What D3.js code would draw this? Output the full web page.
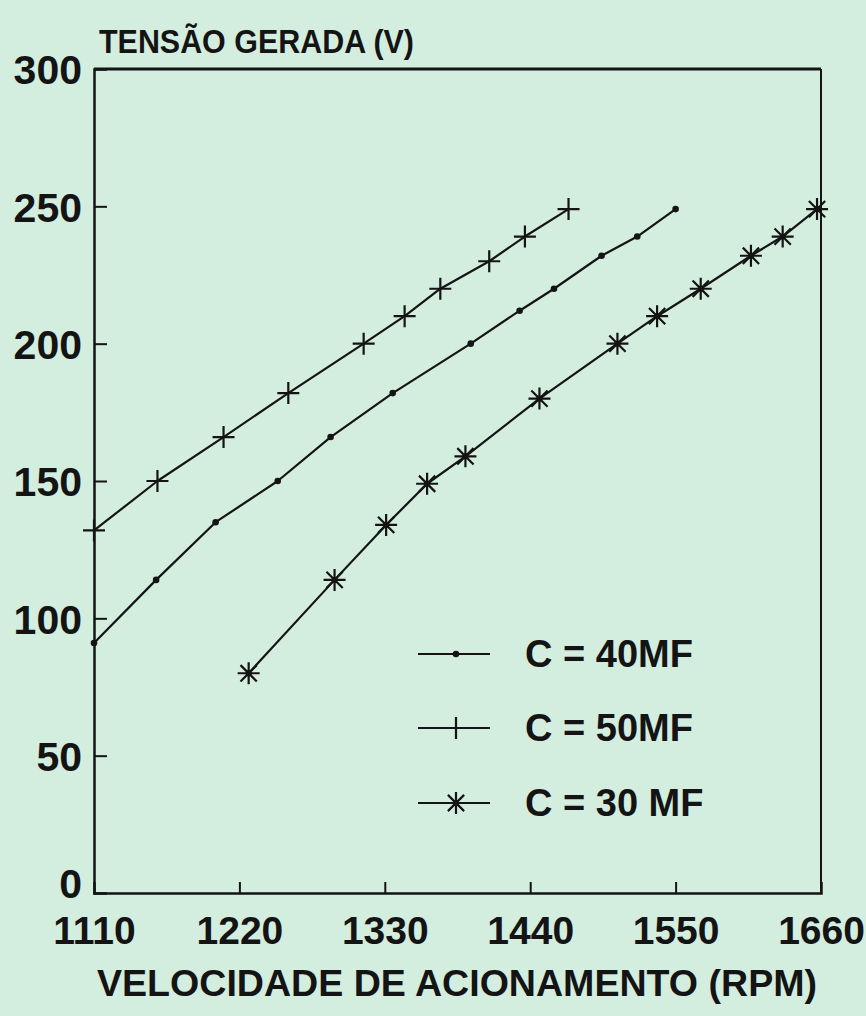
<!DOCTYPE html>
<html>
<head>
<meta charset="utf-8">
<script src="https://cdn.jsdelivr.net/npm/d3@7"></script>
<style>
  html, body { margin: 0; padding: 0; background: #d3eedf; }
  svg { display: block; }
  text { font-family: "Liberation Sans", Arial, sans-serif; font-weight: bold; fill: #141414; }
</style>
</head>
<body>
<svg id="chart" width="866" height="1016"></svg>
<script>
// ---- data ----
const rpm40 = [1110, 1157, 1202, 1249, 1289, 1336, 1395, 1432, 1458, 1494, 1521, 1550];
const volt40 = [91, 114, 135, 150, 166, 182, 200, 212, 220, 232, 239, 249];
const rpm50 = [1110, 1158, 1208, 1257, 1314, 1345, 1372, 1409, 1436, 1469];
const volt50 = [132, 150, 166, 182, 200, 210, 220, 230, 239, 249];
const rpm30 = [1227, 1292, 1331, 1362, 1391, 1447, 1506, 1536, 1569, 1607, 1631, 1657];
const volt30 = [80, 114, 134, 149, 159, 180, 200, 210, 220, 232, 239, 249];
const xTicks = [1110, 1220, 1330, 1440, 1550, 1660];
const yTicks = [0, 50, 100, 150, 200, 250, 300];
const legendLabels = ["C = 40MF", "C = 50MF", "C = 30 MF"];
const yTitle = "TENSÃO GERADA (V)";
const xTitle = "VELOCIDADE DE ACIONAMENTO (RPM)";

// ---- layout ----
const svg = d3.select("#chart");
const ink = "#141414";
const x = d3.scaleLinear().domain([1110, 1660]).range([94, 821]);
const y = d3.scaleLinear().domain([0, 300]).range([893, 69]);

// frame: top and right
svg.append("line").attr("x1", x(1110)).attr("x2", x(1660)).attr("y1", y(300)).attr("y2", y(300))
  .attr("stroke", ink).attr("stroke-width", 3);
svg.append("line").attr("x1", x(1660)).attr("x2", x(1660)).attr("y1", y(300)).attr("y2", y(0))
  .attr("stroke", ink).attr("stroke-width", 2);

// axes with inner ticks
const xAxis = d3.axisBottom(x).tickValues(xTicks).tickSize(-11).tickFormat(d3.format("d"));
const gx = svg.append("g").attr("transform", `translate(0,${y(0)})`).call(xAxis);
gx.select(".domain").attr("stroke", ink).attr("stroke-width", 2.5);
gx.selectAll(".tick line").attr("stroke", ink).attr("stroke-width", 2)
  .attr("display", d => (d === 1110 || d === 1660) ? "none" : null);
gx.selectAll(".tick text").attr("font-size", 39).attr("font-family", "Liberation Sans, Arial, sans-serif")
  .attr("font-weight", "bold").attr("fill", ink).attr("dy", "0.71em").attr("y", 23);

const yAxis = d3.axisLeft(y).tickValues(yTicks).tickSize(-13).tickPadding(12);
const gy = svg.append("g").attr("transform", `translate(${x(1110)},0)`).call(yAxis);
gy.select(".domain").attr("stroke", ink).attr("stroke-width", 2.5);
gy.selectAll(".tick line").attr("stroke", ink).attr("stroke-width", 2)
  .attr("display", d => (d === 0 || d === 300) ? "none" : null);
gy.selectAll(".tick text").attr("font-size", 41).attr("font-family", "Liberation Sans, Arial, sans-serif")
  .attr("font-weight", "bold").attr("fill", ink)
  .attr("dy", d => d === 0 ? "0.1em" : "0.36em");

// titles
svg.append("text").attr("x", 99).attr("y", 53).attr("font-size", 34)
  .attr("textLength", 315).attr("lengthAdjust", "spacingAndGlyphs").text(yTitle);
svg.append("text").attr("x", 97).attr("y", 996)
  .attr("font-size", 37.5).attr("textLength", 720).attr("lengthAdjust", "spacingAndGlyphs").text(xTitle);

// ---- series ----
const line = d3.line().x(d => x(d[0])).y(d => y(d[1]));
const s40 = rpm40.map((r, i) => [r, volt40[i]]);
const s50 = rpm50.map((r, i) => [r, volt50[i]]);
const s30 = rpm30.map((r, i) => [r, volt30[i]]);

[s40, s50, s30].forEach(s => {
  svg.append("path").datum(s).attr("d", line).attr("fill", "none")
    .attr("stroke", ink).attr("stroke-width", 2.2).attr("stroke-linejoin", "round");
});

function dotMarker(g, cx, cy) {
  g.append("circle").attr("cx", cx).attr("cy", cy).attr("r", 3.3).attr("fill", ink);
}
function plusMarker(g, cx, cy) {
  const r = 11;
  g.append("path").attr("d", `M${cx - r},${cy}H${cx + r}M${cx},${cy - r}V${cy + r}`)
    .attr("stroke", ink).attr("stroke-width", 2.2).attr("fill", "none");
}
function starMarker(g, cx, cy) {
  const r = 11, d = r * 0.74;
  g.append("path").attr("d",
    `M${cx - r},${cy}H${cx + r}M${cx},${cy - r}V${cy + r}M${cx - d},${cy - d}L${cx + d},${cy + d}M${cx - d},${cy + d}L${cx + d},${cy - d}`)
    .attr("stroke", ink).attr("stroke-width", 2.2).attr("fill", "none");
  g.append("circle").attr("cx", cx).attr("cy", cy).attr("r", 3).attr("fill", ink);
}

const gm = svg.append("g");
s40.forEach(d => dotMarker(gm, x(d[0]), y(d[1])));
s50.forEach(d => plusMarker(gm, x(d[0]), y(d[1])));
s30.forEach(d => starMarker(gm, x(d[0]), y(d[1])));

// ---- legend ----
const legendY = [654, 728, 803];
const markers = [dotMarker, plusMarker, starMarker];
legendLabels.forEach((lab, i) => {
  const ly = legendY[i];
  svg.append("line").attr("x1", 418).attr("x2", 490).attr("y1", ly).attr("y2", ly)
    .attr("stroke", ink).attr("stroke-width", 2.2);
  markers[i](svg, 456, ly);
  svg.append("text").attr("x", 525).attr("y", ly + 13).attr("font-size", 38).text(lab);
});
</script>
</body>
</html>
